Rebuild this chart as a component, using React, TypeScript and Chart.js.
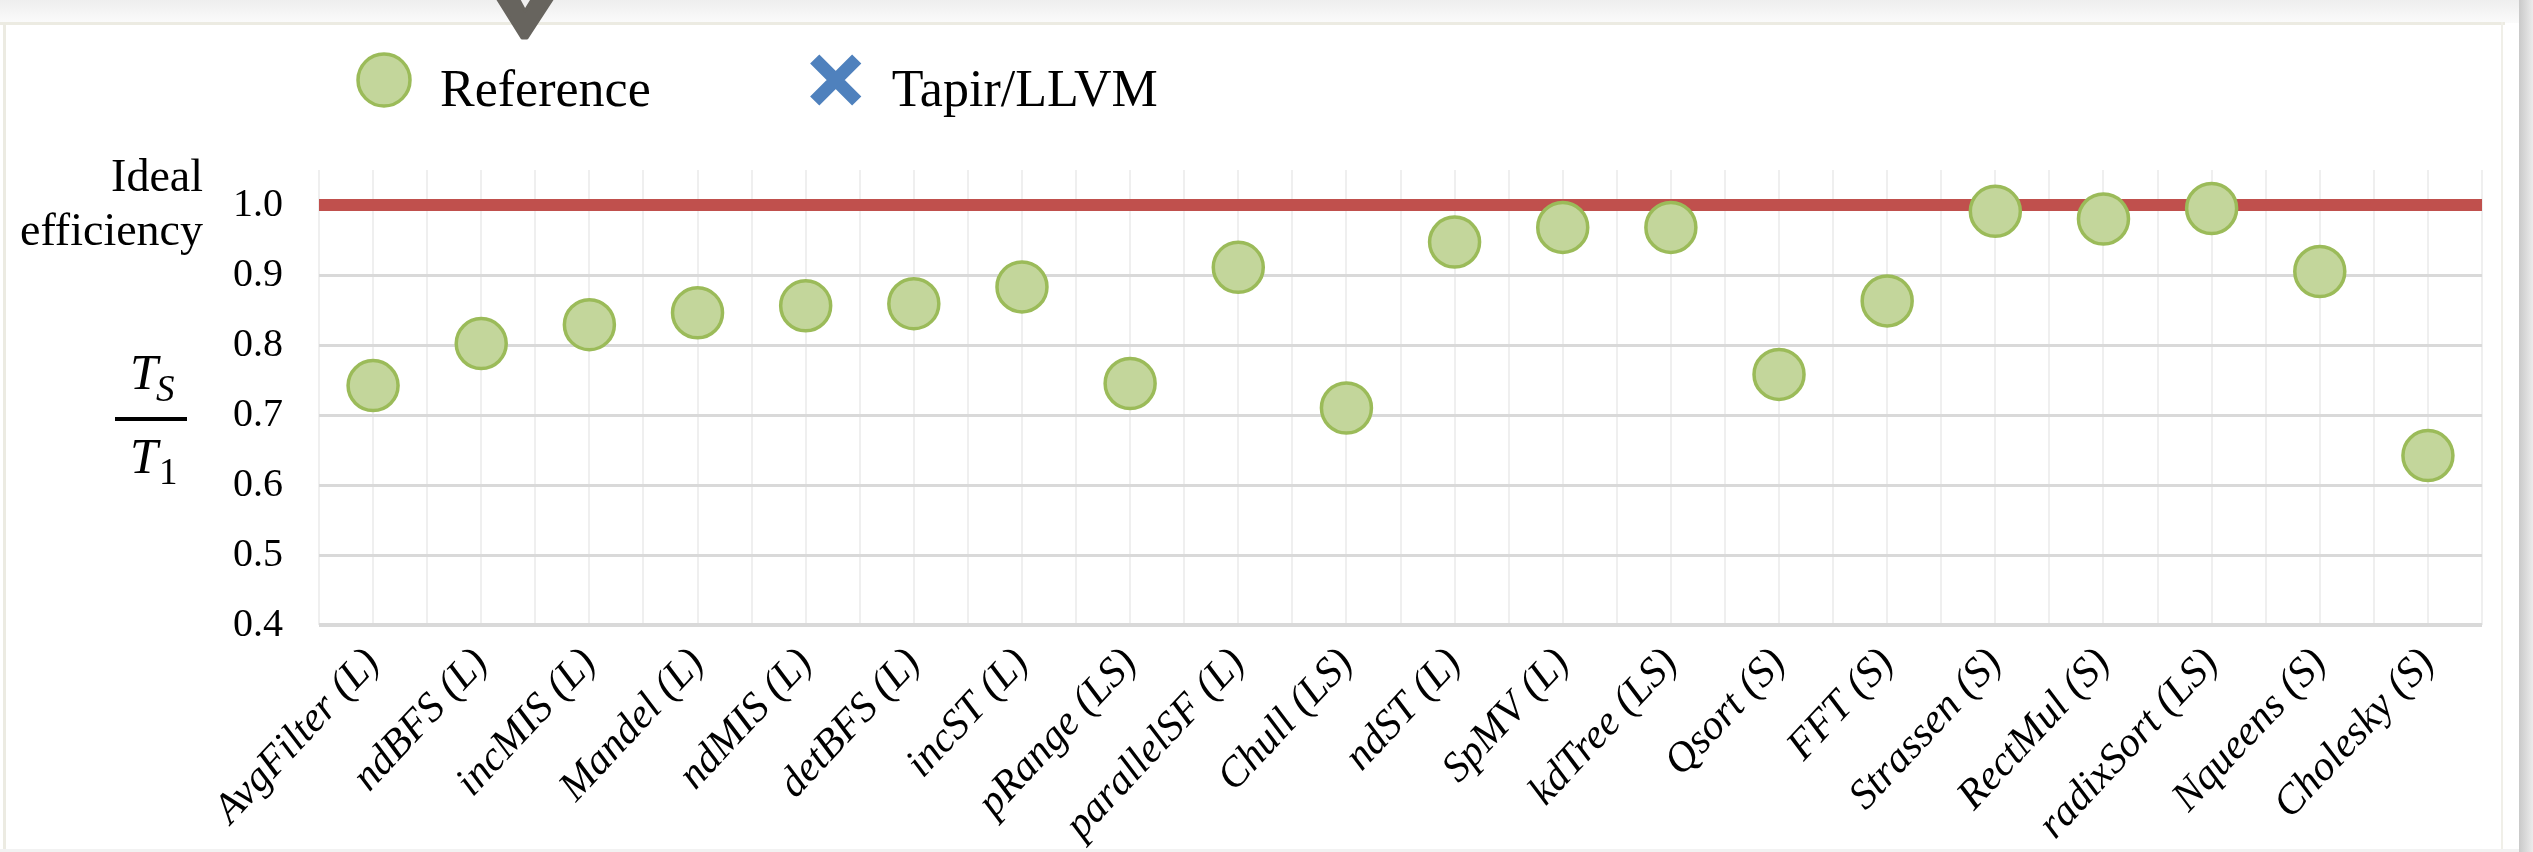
import React, { useEffect, useRef } from 'react';
import { Chart, registerables } from 'chart.js';

Chart.register(...registerables);

const categories = [
  'AvgFilter (L)', 'ndBFS (L)', 'incMIS (L)', 'Mandel (L)', 'ndMIS (L)',
  'detBFS (L)', 'incST (L)', 'pRange (LS)', 'parallelSF (L)', 'Chull (LS)',
  'ndST (L)', 'SpMV (L)', 'kdTree (LS)', 'Qsort (S)', 'FFT (S)',
  'Strassen (S)', 'RectMul (S)', 'radixSort (LS)', 'Nqueens (S)', 'Cholesky (S)',
];
const referenceValues = [
  0.742, 0.802, 0.829, 0.846, 0.856,
  0.859, 0.883, 0.745, 0.911, 0.710,
  0.947, 0.968, 0.968, 0.758, 0.863,
  0.991, 0.980, 0.995, 0.905, 0.642,
];
const tapirValues: number[] = [];
const idealEfficiency = 1.0;
const yTickValues = [0.4, 0.5, 0.6, 0.7, 0.8, 0.9, 1.0];
const yAxisMin = 0.4;
const yAxisMax = 1.05;
const legendLabels = ['Reference', 'Tapir/LLVM'];
const yTitleLines = ['Ideal', 'efficiency'];

const W = 2533;
const H = 852;
const SERIF = "'Liberation Serif', 'Times New Roman', Times, serif";

const framePlugin = {
  id: 'frame',
  beforeDraw(chart: any) {
    const ctx = chart.ctx as CanvasRenderingContext2D;
    ctx.save();
    ctx.fillStyle = '#ffffff';
    ctx.fillRect(0, 0, W, H);
    const g = ctx.createLinearGradient(0, 0, 0, 23);
    g.addColorStop(0, '#eeeeee');
    g.addColorStop(1, '#fbfbfb');
    ctx.fillStyle = g;
    ctx.fillRect(0, 0, W, 23);
    ctx.fillStyle = '#ecebe2';
    ctx.fillRect(0, 22, 2505, 3);
    ctx.fillRect(3, 22, 3, H - 22);
    ctx.fillStyle = '#f0efe8';
    ctx.fillRect(2501, 22, 2, H - 22);
    ctx.fillStyle = '#f2f2f2';
    ctx.fillRect(0, H - 3, 2520, 3);
    const g2 = ctx.createLinearGradient(2519, 0, W, 0);
    g2.addColorStop(0, '#c9c9c9');
    g2.addColorStop(1, '#ececec');
    ctx.fillStyle = g2;
    ctx.fillRect(2519, 0, W - 2519, H);
    ctx.fillStyle = '#67645e';
    ctx.strokeStyle = '#67645e';
    ctx.lineJoin = 'round';
    ctx.lineWidth = 3;
    ctx.beginPath();
    ctx.moveTo(497, -2);
    ctx.lineTo(518, -2);
    ctx.lineTo(525, 11);
    ctx.lineTo(533, -2);
    ctx.lineTo(553, -2);
    ctx.lineTo(527, 38);
    ctx.lineTo(522, 38);
    ctx.closePath();
    ctx.fill();
    ctx.stroke();
    ctx.restore();
  },
};

const annotationPlugin = {
  id: 'annotations',
  afterDraw(chart: any) {
    const ctx = chart.ctx as CanvasRenderingContext2D;
    ctx.save();
    const items = chart.data.datasets.filter((d: any) => legendLabels.includes(d.label));
    let x = 384;
    const cy = 80;
    ctx.font = `52px ${SERIF}`;
    ctx.textBaseline = 'alphabetic';
    ctx.textAlign = 'left';
    items.forEach((ds: any) => {
      if (ds.pointStyle === 'crossRot') {
        ctx.strokeStyle = ds.borderColor;
        ctx.lineWidth = 13;
        ctx.lineCap = 'butt';
        const r = 21;
        ctx.beginPath();
        ctx.moveTo(x - r, cy - r);
        ctx.lineTo(x + r, cy + r);
        ctx.moveTo(x + r, cy - r);
        ctx.lineTo(x - r, cy + r);
        ctx.stroke();
      } else {
        ctx.fillStyle = ds.backgroundColor;
        ctx.strokeStyle = ds.borderColor;
        ctx.lineWidth = 3.5;
        ctx.beginPath();
        ctx.arc(x, cy, 26, 0, Math.PI * 2);
        ctx.fill();
        ctx.stroke();
      }
      ctx.fillStyle = '#000000';
      const tx = x + 56;
      ctx.fillText(ds.label, tx, 106);
      x = tx + ctx.measureText(ds.label).width + 185;
    });

    ctx.fillStyle = '#000000';
    ctx.textAlign = 'right';
    ctx.font = `46px ${SERIF}`;
    ctx.fillText(yTitleLines[0], 203, 191);
    ctx.fillText(yTitleLines[1], 203, 245);

    ctx.textAlign = 'left';
    ctx.font = `italic 50px ${SERIF}`;
    ctx.fillText('T', 130, 389);
    ctx.font = `italic 37px ${SERIF}`;
    ctx.fillText('S', 156, 401);
    ctx.fillRect(115, 417, 72, 4);
    ctx.font = `italic 50px ${SERIF}`;
    ctx.fillText('T', 130, 473);
    ctx.font = `37px ${SERIF}`;
    ctx.fillText('1', 159, 484);
    ctx.restore();
  },
};

export default function App() {
  const ref = useRef<HTMLCanvasElement | null>(null);

  useEffect(() => {
    if (!ref.current) return;
    const n = categories.length;
    const chart = new Chart(ref.current, {
      type: 'scatter',
      data: {
        datasets: [
          {
            label: 'Reference',
            data: referenceValues.map((v, i) => ({ x: i, y: v })),
            pointStyle: 'circle',
            pointRadius: 25,
            borderWidth: 3.5,
            backgroundColor: '#c3d69b',
            borderColor: '#9bbb59',
            order: 1,
          },
          {
            label: 'Tapir/LLVM',
            data: tapirValues.map((v, i) => ({ x: i, y: v })),
            pointStyle: 'crossRot',
            pointRadius: 20,
            borderWidth: 12,
            backgroundColor: '#4f81bd',
            borderColor: '#4f81bd',
            order: 2,
          },
          {
            type: 'line',
            label: 'Ideal efficiency',
            data: [
              { x: -0.5, y: idealEfficiency },
              { x: n - 0.5, y: idealEfficiency },
            ],
            borderColor: '#c0504d',
            backgroundColor: '#c0504d',
            borderWidth: 12,
            pointRadius: 0,
            fill: false,
            order: 3,
          } as any,
        ],
      },
      options: {
        animation: false,
        responsive: false,
        events: [],
        layout: { padding: { left: 0, right: 51, top: 170, bottom: 0 } },
        plugins: {
          legend: { display: false },
          tooltip: { enabled: false },
        },
        scales: {
          x: {
            type: 'linear',
            min: -0.5,
            max: n - 0.5,
            afterFit: (scale: any) => { scale.height = 227; },
            border: { display: false },
            grid: {
              color: '#efefef',
              lineWidth: 2,
              drawTicks: false,
            },
            ticks: {
              stepSize: 0.5,
              autoSkip: false,
              minRotation: 47,
              maxRotation: 47,
              padding: 14,
              color: '#000000',
              font: { family: SERIF, size: 42, style: 'italic' },
              callback: (v: any) => (Number.isInteger(v) ? categories[v] : ''),
            },
          },
          y: {
            type: 'linear',
            min: yAxisMin,
            max: yAxisMax,
            afterFit: (scale: any) => { scale.width = 319; },
            afterBuildTicks: (scale: any) => {
              scale.ticks = yTickValues.map((v) => ({ value: v }));
            },
            border: { display: false },
            grid: {
              color: '#d9d9d9',
              lineWidth: (c: any) => (c.tick && Math.abs(c.tick.value - yAxisMin) < 1e-9 ? 4 : 3),
              drawTicks: false,
            },
            ticks: {
              padding: 36,
              color: '#000000',
              font: { family: SERIF, size: 40 },
              callback: (v: any) => Number(v).toFixed(1),
            },
          },
        },
      },
      plugins: [framePlugin, annotationPlugin],
    });
    return () => chart.destroy();
  }, []);

  return (
    <div style={{ position: 'absolute', left: 0, top: 0, width: W, height: H }}>
      <canvas ref={ref} width={W} height={H} style={{ width: W, height: H, display: 'block' }} />
    </div>
  );
}
